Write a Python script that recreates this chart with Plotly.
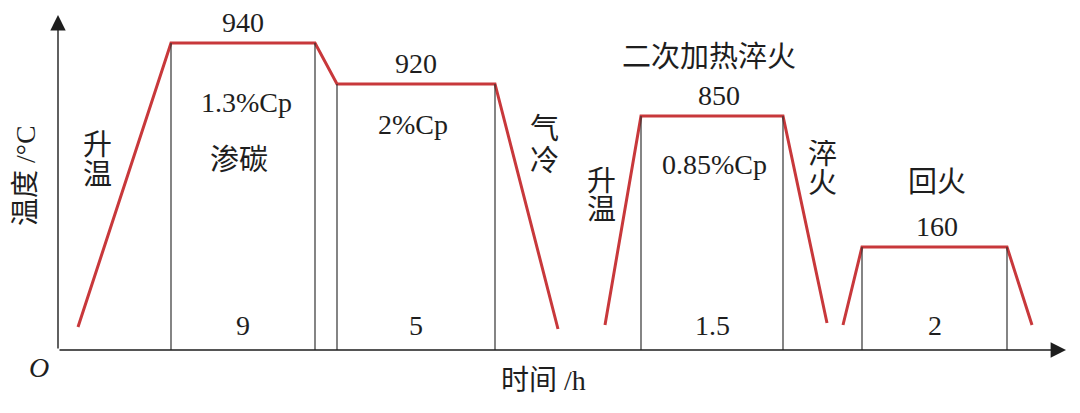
import plotly.graph_objects as go

# ---- schematic data (drawing units: time to the right of O, temperature up; not to scale) ----
carb_t = [20, 113, 257, 279, 437, 500]
carb_T = [23, 307, 307, 266, 266, 21]
harden_t = [547, 583, 725, 769]
harden_T = [25, 234, 234, 27]
temper_t = [785, 804, 949, 974]
temper_T = [25, 103, 103, 25]

hold_temps = ["940", "920", "850", "160"]
hold_times = ["9", "5", "1.5", "2"]
carbon_potentials = ["1.3%Cp", "2%Cp", "0.85%Cp"]

x_title = "时间 /h"
y_title = "温度 /°C"
stage_title = "二次加热淬火"

# ---- layout helpers (pixel -> drawing units) ----
W, H = 1080, 413
X0, Y0 = 58, 350


def px(x):
    return x - X0


def py(y):
    return Y0 - y


RED = "#c8383b"
INK = "#1e1e1e"
SERIF = "Liberation Serif, Noto Sans CJK SC, serif"
FS = 28
FS_CJK = 29

fig = go.Figure()

# red temperature profiles
for t, T in [(carb_t, carb_T), (harden_t, harden_T), (temper_t, temper_T)]:
    fig.add_trace(go.Scatter(x=t, y=T, mode="lines",
                             line=dict(color=RED, width=3),
                             hoverinfo="skip", showlegend=False))

# hold segments (start index, end index in profile)
holds = [(carb_t, carb_T, 1, 2), (carb_t, carb_T, 3, 4),
         (harden_t, harden_T, 1, 2), (temper_t, temper_T, 1, 2)]

vx, vy = [], []
for t, T, i, j in holds:
    for k in (i, j):
        vx += [t[k], t[k], None]
        vy += [0, T[k], None]
fig.add_trace(go.Scatter(x=vx, y=vy, mode="lines",
                         line=dict(color="#333333", width=1.2),
                         hoverinfo="skip", showlegend=False))

annotations = []


def txt(x, y, s, size=FS, **kw):
    annotations.append(dict(x=x, y=y, text=s, showarrow=False, xref="x", yref="y",
                            xanchor="center", yanchor="middle",
                            font=dict(family=SERIF, size=size, color=INK), **kw))


# hold temperature and time labels
temp_xshift = [0, 0, 7, 2]
for (t, T, i, j), lab, lt, xs in zip(holds, hold_temps, hold_times, temp_xshift):
    mid = (t[i] + t[j]) / 2
    txt(mid, T[i] + 21, lab, xshift=xs)
    txt(mid, py(325), lt)

# carbon potentials
cp_pos = [(246, 102), (413, 124), (714, 164)]
for (x, y), lab in zip(cp_pos, carbon_potentials):
    txt(px(x), py(y), lab)

# vertical Chinese labels (one character per line)
def vtxt(x, ys, s):
    gap = min(b - a for a, b in zip(ys, ys[1:]))
    for ch, y in zip(s, ys):
        txt(px(x), py(y), ch, size=FS_CJK, height=gap - 1, valign="middle")


vtxt(97, [144, 174], "升温")
vtxt(544, [128, 160], "气冷")
vtxt(601, [181, 210], "升温")
vtxt(822, [154, 183], "淬火")

txt(px(239), py(160), "渗碳", size=FS_CJK)
txt(px(937), py(182), "回火", size=FS_CJK)
txt(px(709), py(57), stage_title, size=FS_CJK)

# axis titles and origin
txt(px(543), py(380), x_title)
txt(px(25), py(176), y_title, textangle=-90)
txt(px(39), py(367), "<i>O</i>")

# axes with arrows
annotations.append(dict(x=px(1066), y=0, ax=0, ay=0, xref="x", yref="y",
                        axref="x", ayref="y", showarrow=True, arrowhead=2,
                        arrowsize=2.2, arrowwidth=1.4, arrowcolor=INK, text="", standoff=0))
annotations.append(dict(x=0, y=py(15), ax=0, ay=0, xref="x", yref="y",
                        axref="x", ayref="y", showarrow=True, arrowhead=2,
                        arrowsize=2.2, arrowwidth=1.4, arrowcolor=INK, text="", standoff=0))

fig.update_layout(
    width=W, height=H,
    margin=dict(l=0, r=0, t=0, b=0),
    paper_bgcolor="white", plot_bgcolor="white",
    xaxis=dict(range=[px(0), px(W)], visible=False, fixedrange=True),
    yaxis=dict(range=[py(H), py(0)], visible=False, fixedrange=True),
    annotations=annotations,
    showlegend=False,
)

fig.write_html("out.html", config={"displayModeBar": False},
               post_script="document.body.style.margin='0';document.body.style.overflow='hidden';")
